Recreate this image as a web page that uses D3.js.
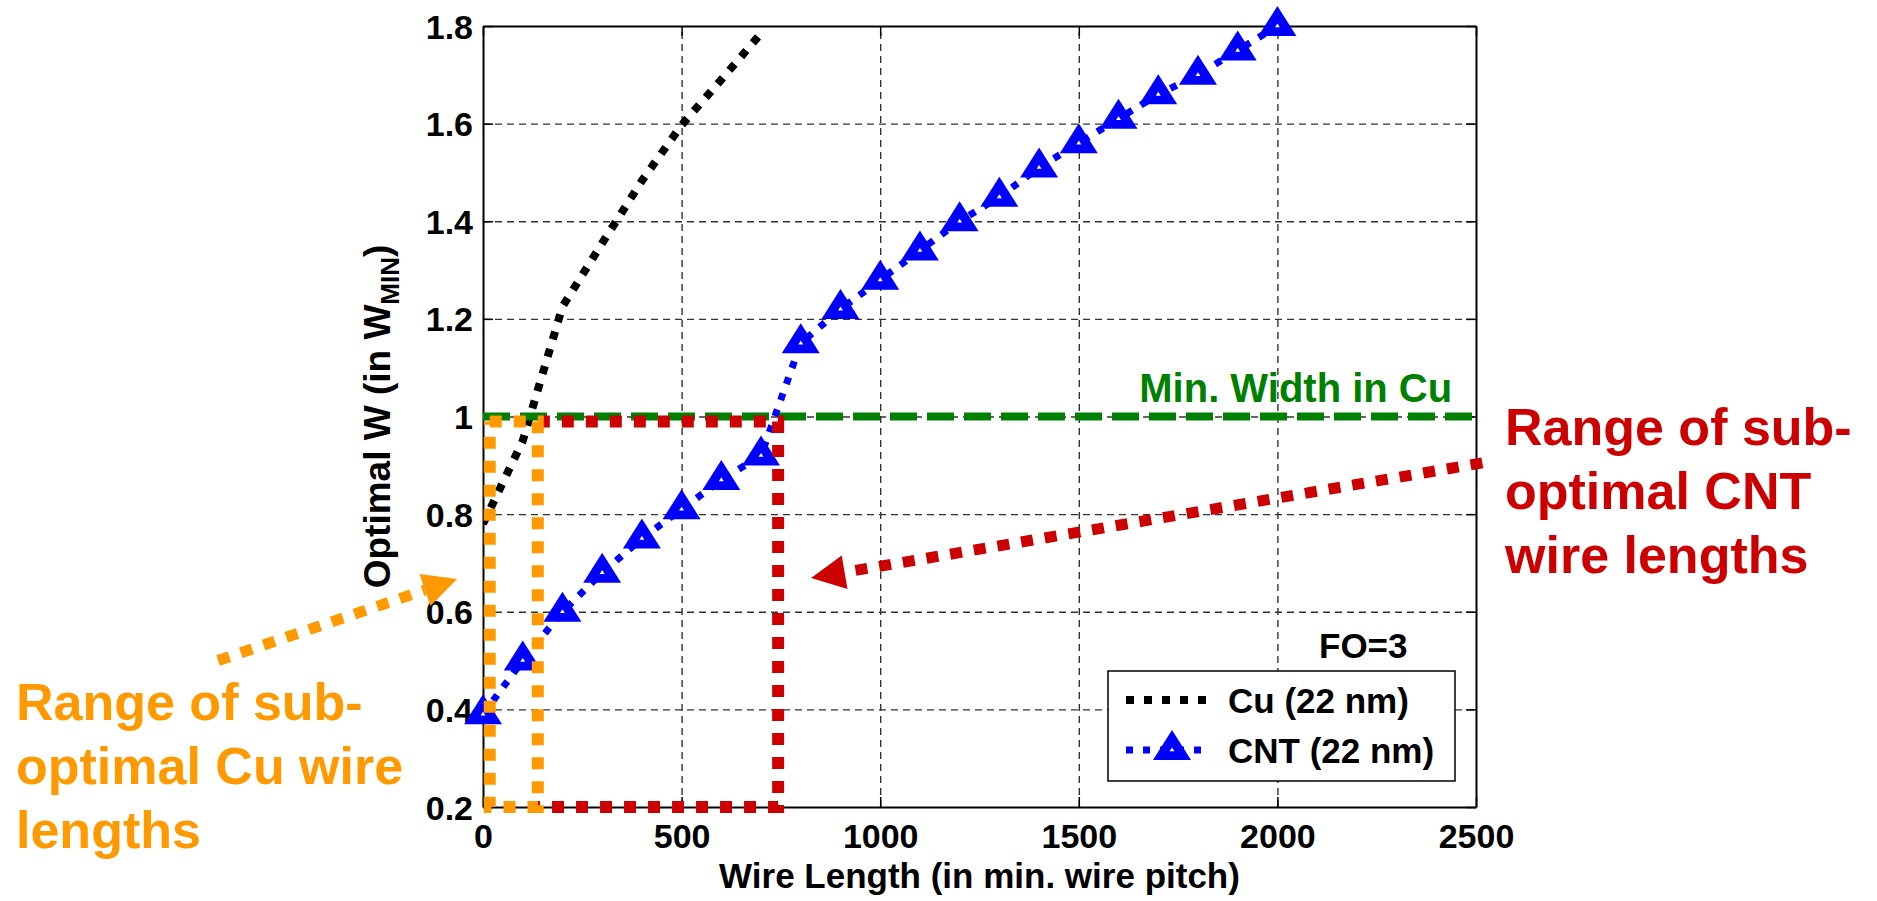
<!DOCTYPE html>
<html>
<head>
<meta charset="utf-8">
<script src="https://cdn.jsdelivr.net/npm/d3@7"></script>
<style>
  html, body { margin: 0; padding: 0; background: #fff; }
  svg { display: block; font-family: "Liberation Sans", Arial, sans-serif; font-weight: bold; }
</style>
</head>
<body>
<div id="chart"></div>
<script>
// ---- data ----
const cuLength = [0, 100, 200, 300, 400, 500, 600, 700];
const cuWidth = [0.78, 0.95, 1.225, 1.355, 1.483, 1.597, 1.69, 1.785];

const cntLength = [0, 100, 200, 300, 400, 500, 600, 700, 800, 900, 1000,
  1100, 1200, 1300, 1400, 1500, 1600, 1700, 1800, 1900, 2000];
const cntWidth = [0.39, 0.50, 0.60, 0.68, 0.75, 0.81, 0.87, 0.92, 1.15, 1.22, 1.28,
  1.34, 1.40, 1.45, 1.51, 1.56, 1.61, 1.66, 1.70, 1.75, 1.80];

const xTicks = [0, 500, 1000, 1500, 2000, 2500];
const yTicks = [0.2, 0.4, 0.6, 0.8, 1, 1.2, 1.4, 1.6, 1.8];
const xTickLabels = ["0", "500", "1000", "1500", "2000", "2500"];
const yTickLabels = ["0.2", "0.4", "0.6", "0.8", "1", "1.2", "1.4", "1.6", "1.8"];

const minWidthLevel = 1;
const cuRangeBox = [[17, 0.99], [138, 0.99], [138, 0.2], [17, 0.2], [17, 0.99]];
const cntRangeBox = [[138, 0.99], [743, 0.99], [743, 0.2], [138, 0.2]];
const cuArrow = [[-667, 0.50], [-65, 0.667]];
const cntArrow = [[2516, 0.905], [826, 0.669]];

const legendLabels = ["Cu (22 nm)", "CNT (22 nm)"];

// ---- layout ----
const W = 1877, H = 901;
const PLOT = { left: 483, top: 26, right: 1476, bottom: 807 };
const ORANGE = "#FF9900", RED = "#CC0000", GREEN = "#008000", BLUE = "#0000FF";

const svg = d3.select("#chart").append("svg")
  .attr("width", W)
  .attr("height", H);

const x = d3.scaleLinear().domain([0, 2500]).range([PLOT.left, PLOT.right]);
const y = d3.scaleLinear().domain([0.2, 1.8]).range([PLOT.bottom, PLOT.top]);
const pw = PLOT.right - PLOT.left;
const ph = PLOT.bottom - PLOT.top;

// grid
svg.append("g")
  .attr("transform", `translate(0,${PLOT.bottom})`)
  .call(d3.axisBottom(x).tickValues(xTicks.slice(1, -1)).tickSize(-ph).tickFormat(""))
  .call(g => g.select(".domain").remove())
  .call(g => g.selectAll("line").attr("stroke", "#333").attr("stroke-width", 1.4).attr("stroke-dasharray", "7,5"));

svg.append("g")
  .attr("transform", `translate(${PLOT.left},0)`)
  .call(d3.axisLeft(y).tickValues(yTicks.slice(1, -1)).tickSize(-pw).tickFormat(""))
  .call(g => g.select(".domain").remove())
  .call(g => g.selectAll("line").attr("stroke", "#333").attr("stroke-width", 1.4).attr("stroke-dasharray", "7,5"));

// axes with inward ticks
const tickFont = g => g.selectAll("text")
  .attr("font-family", "Liberation Sans, Arial, sans-serif")
  .attr("font-weight", "bold")
  .attr("font-size", 34)
  .attr("fill", "#000");

svg.append("g")
  .attr("transform", `translate(0,${PLOT.bottom})`)
  .call(d3.axisBottom(x).tickValues(xTicks).tickSize(-10).tickSizeOuter(0)
    .tickFormat((d, i) => xTickLabels[i]))
  .call(tickFont)
  .call(g => g.selectAll("text").attr("dy", null).attr("y", 41));

svg.append("g")
  .attr("transform", `translate(${PLOT.left},0)`)
  .call(d3.axisLeft(y).tickValues(yTicks).tickSize(-10).tickSizeOuter(0)
    .tickFormat((d, i) => yTickLabels[i]))
  .call(tickFont)
  .call(g => g.selectAll("text").attr("dy", null).attr("x", -10).attr("y", 12));

svg.append("g")
  .attr("transform", `translate(0,${PLOT.top})`)
  .call(d3.axisTop(x).tickValues(xTicks).tickSize(-10).tickSizeOuter(0).tickFormat(""));

svg.append("g")
  .attr("transform", `translate(${PLOT.right},0)`)
  .call(d3.axisRight(y).tickValues(yTicks).tickSize(-10).tickSizeOuter(0).tickFormat(""));

svg.selectAll(".domain").attr("stroke", "#000").attr("stroke-width", 2);
svg.selectAll(".tick line").filter(function () { return !this.getAttribute("stroke-dasharray"); })
  .attr("stroke", "#000").attr("stroke-width", 1.5);

// axis labels
svg.append("text")
  .attr("x", (PLOT.left + PLOT.right) / 2)
  .attr("y", 888)
  .attr("text-anchor", "middle")
  .attr("font-size", 35)
  .text("Wire Length (in min. wire pitch)");

const yl = svg.append("text")
  .attr("transform", `translate(390,${(PLOT.top + PLOT.bottom) / 2}) rotate(-90)`)
  .attr("text-anchor", "middle")
  .attr("font-size", 37);
yl.append("tspan").text("Optimal W (in W");
yl.append("tspan").attr("font-size", 26).attr("dy", 9).text("MIN");
yl.append("tspan").attr("dy", -9).text(")");

// data lines
const line = d3.line().x(d => x(d[0])).y(d => y(d[1]));
const cuData = cuLength.map((v, i) => [v, cuWidth[i]]);
const cntData = cntLength.map((v, i) => [v, cntWidth[i]]);

svg.append("clipPath").attr("id", "plotClip")
  .append("rect").attr("x", PLOT.left).attr("y", PLOT.top).attr("width", pw).attr("height", ph);

svg.append("path")
  .datum(cuData)
  .attr("clip-path", "url(#plotClip)")
  .attr("fill", "none")
  .attr("stroke", "#000")
  .attr("stroke-width", 8)
  .attr("stroke-dasharray", "8,10")
  .attr("d", line);

svg.append("path")
  .datum(cntData)
  .attr("fill", "none")
  .attr("stroke", BLUE)
  .attr("stroke-width", 7)
  .attr("stroke-dasharray", "7,10")
  .attr("d", line);

function triangle(cx, cy, s) {
  return `M${cx},${cy - 20 * s}L${cx + 19 * s},${cy + 10 * s}L${cx - 19 * s},${cy + 10 * s}Z`;
}

svg.selectAll(".tri")
  .data(cntData)
  .enter()
  .append("path")
  .attr("class", "tri")
  .attr("fill", BLUE)
  .attr("d", d => triangle(x(d[0]), y(d[1]), 1));

svg.selectAll(".triIn")
  .data(cntData)
  .enter()
  .append("path")
  .attr("class", "triIn")
  .attr("fill", "#fff")
  .attr("d", d => triangle(x(d[0]), y(d[1]), 0.13));

// min width line
svg.append("line")
  .attr("x1", x(0)).attr("x2", x(2500))
  .attr("y1", y(minWidthLevel)).attr("y2", y(minWidthLevel))
  .attr("stroke", GREEN)
  .attr("stroke-width", 8)
  .attr("stroke-dasharray", "27,10");

svg.append("text")
  .attr("x", x(2440))
  .attr("y", y(1.03))
  .attr("text-anchor", "end")
  .attr("font-size", 40)
  .attr("fill", GREEN)
  .text("Min. Width in Cu");

// range boxes
const boxLine = d3.line().x(d => x(d[0])).y(d => y(d[1]));
svg.append("path")
  .datum(cntRangeBox)
  .attr("fill", "none")
  .attr("stroke", RED)
  .attr("stroke-width", 12)
  .attr("stroke-dasharray", "12,12")
  .attr("d", boxLine);

svg.append("path")
  .datum(cuRangeBox)
  .attr("fill", "none")
  .attr("stroke", ORANGE)
  .attr("stroke-width", 12)
  .attr("stroke-dasharray", "12,12")
  .attr("d", boxLine);

// arrows
function drawArrow(pts, color) {
  const [x0, y0] = [x(pts[0][0]), y(pts[0][1])];
  const [x1, y1] = [x(pts[1][0]), y(pts[1][1])];
  const len = Math.hypot(x1 - x0, y1 - y0);
  const ux = (x1 - x0) / len, uy = (y1 - y0) / len;
  const bx = x1 - ux * 34, by = y1 - uy * 34;
  svg.append("line")
    .attr("x1", x0).attr("y1", y0).attr("x2", bx).attr("y2", by)
    .attr("stroke", color)
    .attr("stroke-width", 11)
    .attr("stroke-dasharray", "12,12");
  svg.append("path")
    .attr("fill", color)
    .attr("d", `M${x1},${y1}L${bx - uy * 17},${by + ux * 17}L${bx + uy * 17},${by - ux * 17}Z`);
}
drawArrow(cuArrow, ORANGE);
drawArrow(cntArrow, RED);

// annotation text
function block(lines, px, py, color) {
  svg.append("g").selectAll("text")
    .data(lines)
    .enter()
    .append("text")
    .attr("x", px)
    .attr("y", (d, i) => py + i * 64)
    .attr("font-size", 52)
    .attr("fill", color)
    .text(d => d);
}
block(["Range of sub-", "optimal Cu wire", "lengths"], 16, 720, ORANGE);
block(["Range of sub-", "optimal CNT", "wire lengths"], 1505, 445, RED);

svg.append("text")
  .attr("x", 1319)
  .attr("y", 658)
  .attr("font-size", 35)
  .text("FO=3");

// legend
const legend = svg.append("g").attr("transform", "translate(1108,671)");
legend.append("rect")
  .attr("width", 347).attr("height", 110)
  .attr("fill", "#fff").attr("stroke", "#000").attr("stroke-width", 1.5);

const legendRows = [
  { label: legendLabels[0], color: "#000", width: 8, dash: "8,10", marker: false },
  { label: legendLabels[1], color: BLUE, width: 7, dash: "7,10", marker: true }
];
const rows = legend.selectAll(".row")
  .data(legendRows)
  .enter()
  .append("g")
  .attr("transform", (d, i) => `translate(0,${29 + i * 50})`);
rows.append("line")
  .attr("x1", 18).attr("x2", 100)
  .attr("stroke", d => d.color)
  .attr("stroke-width", d => d.width)
  .attr("stroke-dasharray", d => d.dash);
rows.filter(d => d.marker).append("path")
  .attr("fill", BLUE)
  .attr("d", triangle(64, 0, 1));
rows.filter(d => d.marker).append("path")
  .attr("fill", "#fff")
  .attr("d", triangle(64, 0, 0.13));
rows.append("text")
  .attr("x", 120)
  .attr("y", 13)
  .attr("font-size", 35)
  .text(d => d.label);
</script>
</body>
</html>
